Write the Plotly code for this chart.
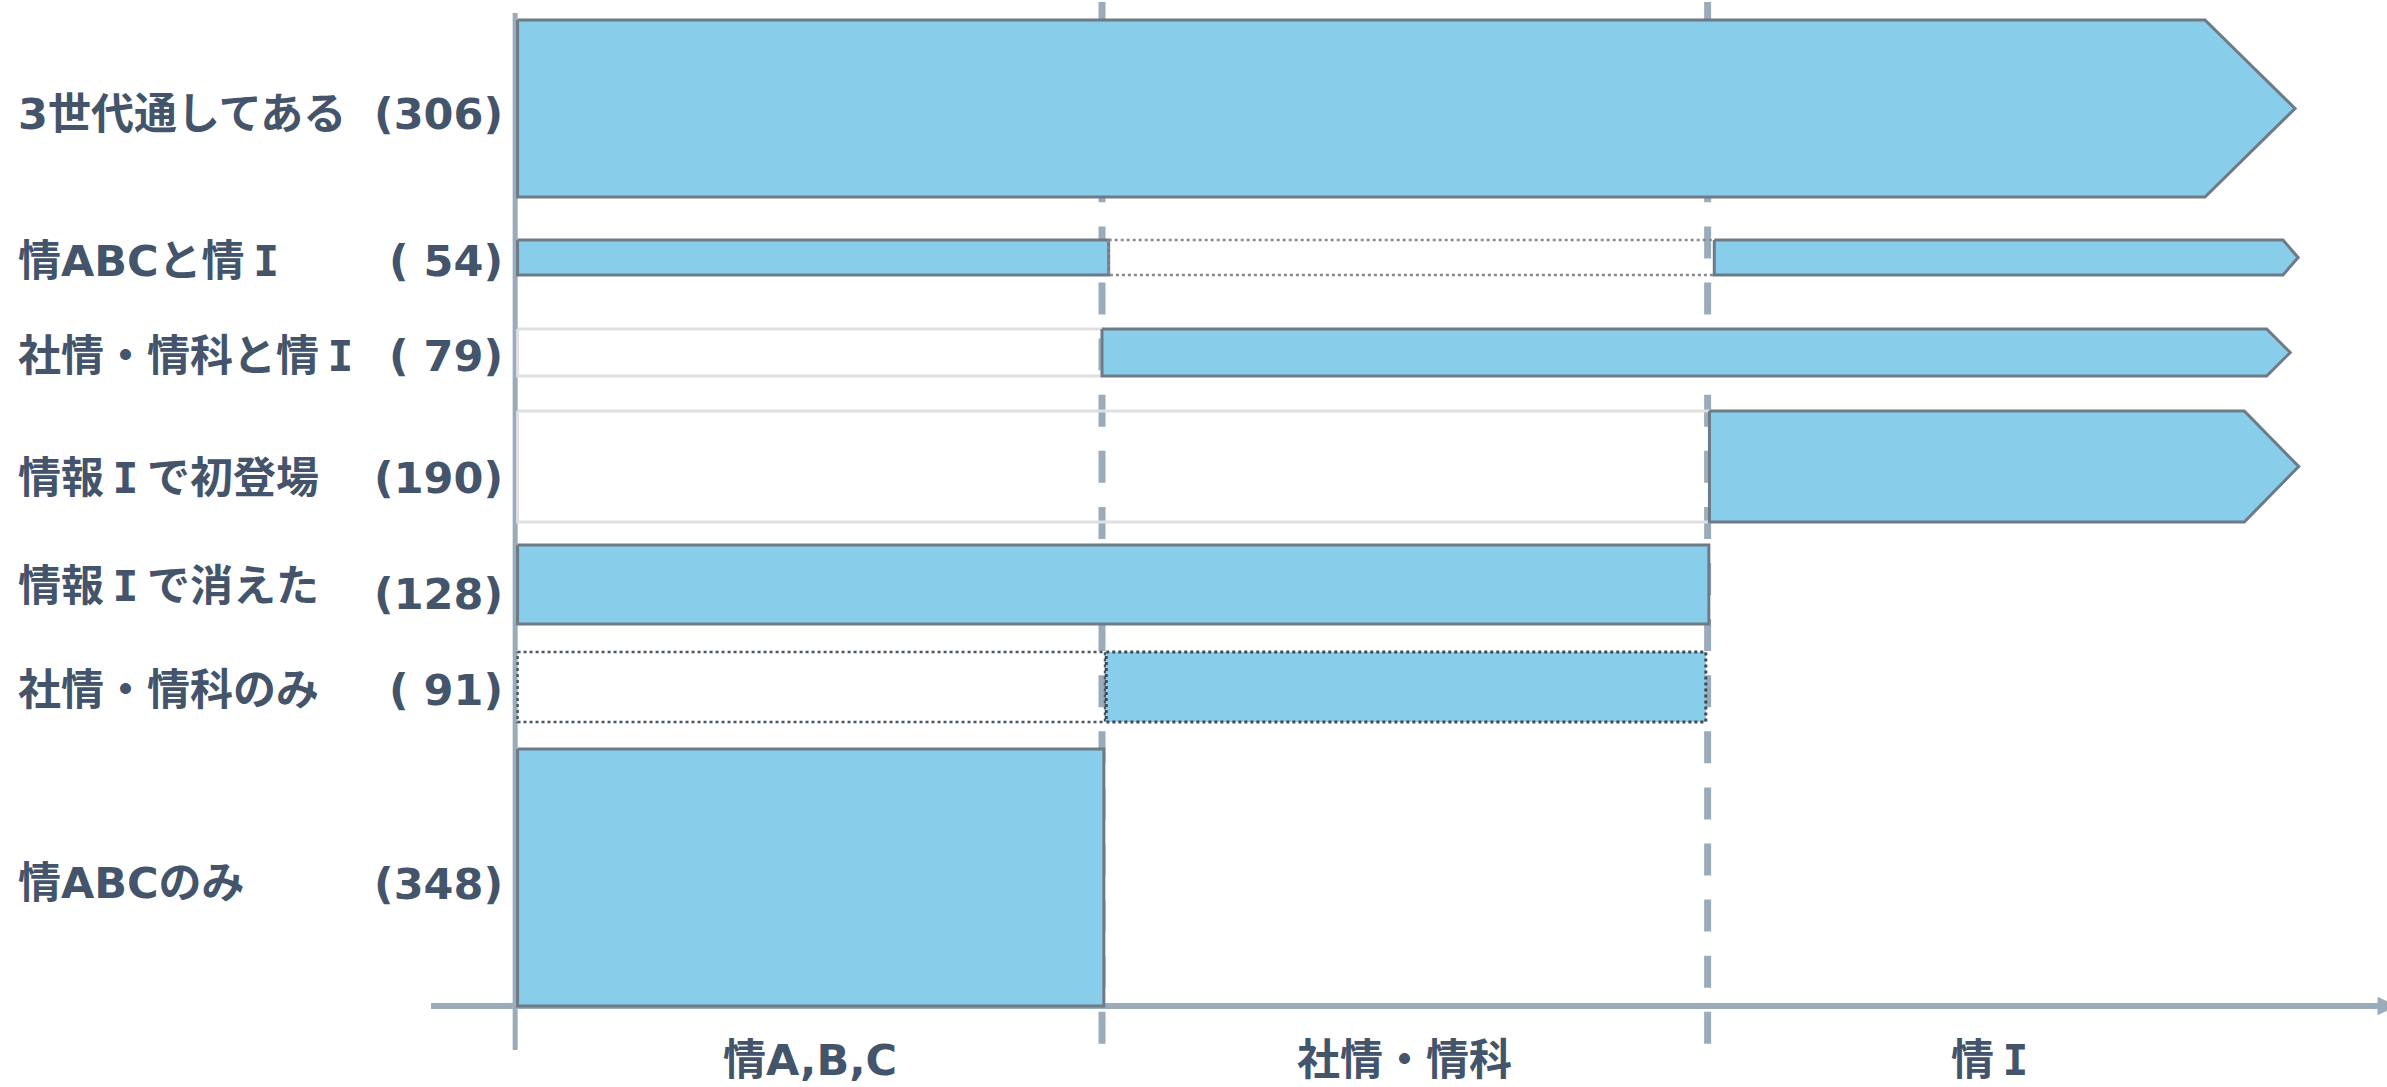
import plotly.graph_objects as go

# ---------------- data ----------------
row_names = ["3世代通してある", "情ABCと情Ⅰ", "社情・情科と情Ⅰ", "情報Ⅰで初登場",
             "情報Ⅰで消えた", "社情・情科のみ", "情ABCのみ"]
row_counts = [306, 54, 79, 190, 128, 91, 348]
era_labels = ["情A,B,C", "社情・情科", "情Ⅰ"]

# era boundaries along the horizontal (timeline) axis
era_edges = [0.0, 0.966, 1.967, 2.915]

# vertical extent of each row band (y units)
row_top = [98.6, 76.6, 67.7, 59.5, 46.1, 35.4, 25.7]
row_bottom = [80.9, 73.1, 63.0, 48.4, 38.2, 28.4, 0.0]

# segments of each row: (style, start, end)
row_segments = [
    [("fill", 0.0, 2.789)],
    [("fill", 0.0, 0.977), ("dot", 0.977, 1.978), ("fill", 1.978, 2.918)],
    [("empty", 0.0, 0.966), ("fill", 0.966, 2.891)],
    [("empty", 0.0, 1.970), ("fill", 1.970, 2.854)],
    [("fill", 0.0, 1.969)],
    [("dotdark", 0.0, 0.971), ("filldot", 0.973, 1.964)],
    [("fill", 0.0, 0.969)],
]
# arrow tip for rows continuing to the right (None = square end)
arrow_tip = [2.938, 2.943, 2.930, 2.944, None, None, None]

# label placement (y units)
name_y = [89.2, 74.5, 65.0, 52.8, 42.0, 31.6, 12.3]
count_y = [89.2, 74.5, 65.0, 52.8, 41.2, 31.6, 12.2]

# ---------------- styles ----------------
FILL = "#88CDE9"
EDGE = "#6E7A86"
AXIS = "#9AABB9"
TEXT = "#44546A"
FONT = "DejaVu Sans, Noto Sans CJK JP"
FONT_SIZE = 43

styles = {
    "fill": dict(fill=FILL, color=EDGE, width=3, dash="solid"),
    "dot": dict(fill=None, color="#858B90", width=2.5, dash="dot"),
    "empty": dict(fill=None, color="#E0E0E0", width=3, dash="solid"),
    "dotdark": dict(fill=None, color="#4A5661", width=2.5, dash="dot"),
    "filldot": dict(fill=FILL, color="#3E4B57", width=3, dash="dot"),
}

X_MIN, X_MAX = -0.8555, 3.0899
Y_MIN, Y_MAX = -8.1, 100.6

fig = go.Figure()

# bars
for i, segs in enumerate(row_segments):
    top, bot = row_top[i], row_bottom[i]
    mid = (top + bot) / 2
    for j, (style, x0, x1) in enumerate(segs):
        st = styles[style]
        if j == len(segs) - 1 and arrow_tip[i] is not None:
            xs = [x0, x1, arrow_tip[i], x1, x0, x0]
            ys = [top, top, mid, bot, bot, top]
        else:
            xs = [x0, x1, x1, x0, x0]
            ys = [top, top, bot, bot, top]
        fig.add_trace(go.Scatter(
            x=xs, y=ys, mode="lines",
            fill="toself" if st["fill"] else "none",
            fillcolor=st["fill"] if st["fill"] else None,
            line=dict(color=st["color"], width=st["width"], dash=st["dash"]),
            hoverinfo="skip", showlegend=False,
        ))

shapes = []
# dashed era boundaries (under the bars)
for xb in era_edges[1:3]:
    shapes.append(dict(type="line", xref="x", yref="y", x0=xb, x1=xb,
                       y0=100.4, y1=-4.0, layer="below",
                       line=dict(color=AXIS, width=7, dash="32px,24.1px")))
# vertical axis
shapes.append(dict(type="line", xref="x", yref="y", x0=-0.004, x1=-0.004,
                   y0=99.3, y1=-4.4, layer="below",
                   line=dict(color=AXIS, width=5)))
# horizontal axis with arrow head
shapes.append(dict(type="line", xref="x", yref="y", x0=-0.143, x1=3.08,
                   y0=0, y1=0, layer="below",
                   line=dict(color=AXIS, width=6)))
shapes.append(dict(type="path", xref="x", yref="y", layer="below",
                   path="M 3.075 0.85 L 3.105 0 L 3.075 -0.85 Z",
                   fillcolor=AXIS, line=dict(color=AXIS, width=1)))

annotations = []
# roman numeral one drawn as a barred "I" in a full-width cell
ROMAN = '\u2009<span style="font-family:DejaVu Sans Mono">I</span>\u2009'


def fmt(t):
    return "<b>" + t.replace("Ⅰ", ROMAN) + "</b>"


for i, name in enumerate(row_names):
    annotations.append(dict(
        x=-0.829, y=name_y[i], xref="x", yref="y", text=fmt(name),
        showarrow=False, xanchor="left", yanchor="middle",
        font=dict(family=FONT, size=FONT_SIZE, color=TEXT)))
    annotations.append(dict(
        x=-0.021, y=count_y[i], xref="x", yref="y",
        text=fmt("(" + f"{row_counts[i]:>3}" + ")"),
        showarrow=False, xanchor="right", yanchor="middle",
        font=dict(family=FONT, size=FONT_SIZE, color=TEXT)))

for k, lab in enumerate(era_labels):
    cx = (era_edges[k] + era_edges[k + 1]) / 2
    annotations.append(dict(
        x=cx, y=-5.4, xref="x", yref="y", text=fmt(lab),
        showarrow=False, xanchor="center", yanchor="middle",
        font=dict(family=FONT, size=FONT_SIZE, color=TEXT)))

fig.update_layout(
    width=2387, height=1087,
    margin=dict(l=0, r=0, t=0, b=0),
    paper_bgcolor="white", plot_bgcolor="white",
    xaxis=dict(range=[X_MIN, X_MAX], visible=False, fixedrange=True),
    yaxis=dict(range=[Y_MIN, Y_MAX], visible=False, fixedrange=True),
    shapes=shapes, annotations=annotations, showlegend=False,
)

fig.write_html("out.html")
